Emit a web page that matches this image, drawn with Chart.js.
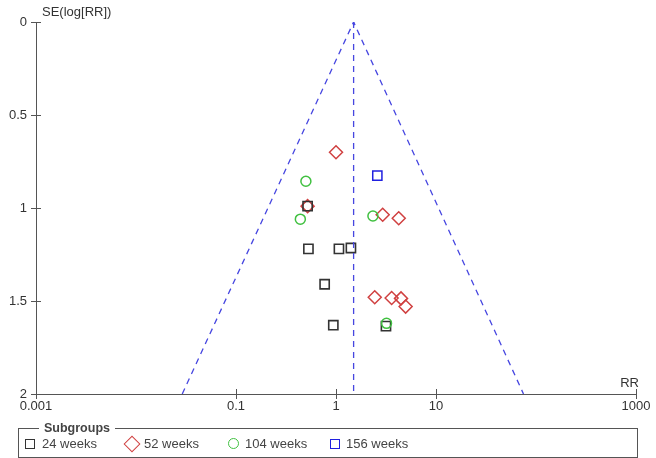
<!DOCTYPE html>
<html>
<head>
<meta charset="utf-8">
<script src="https://cdn.jsdelivr.net/npm/chart.js@4.4.1/dist/chart.umd.min.js"></script>
<style>
  body { margin: 0; background: #fff; font-family: "Liberation Sans", Arial, sans-serif; }
  #wrap { position: relative; width: 656px; height: 458px; overflow: hidden; }
  #legend { position: absolute; left: 18px; top: 428px; width: 620px; height: 30px; border: 1px solid #555; box-sizing: border-box; }
  #legend .title { position: absolute; left: 20px; top: -8px; padding: 0 5px; background: #fff; font-weight: bold; font-size: 12.5px; color: #444; line-height: 14px; }
  #legend .item { position: absolute; top: 8px; font-size: 13px; color: #444; line-height: 14px; }
  #legend .mk { position: absolute; box-sizing: border-box; }
</style>
</head>
<body>
<div id="wrap">
  <canvas id="funnel" width="656" height="458"></canvas>
  <div id="legend">
    <span class="title">Subgroups</span>
    <span class="mk" style="left:6px;top:10px;width:10px;height:10px;border:1.5px solid #333;"></span>
    <span class="item" style="left:23px;">24 weeks</span>
    <span class="mk" style="left:107px;top:9px;width:12px;height:12px;border:1.5px solid #d04040;transform:rotate(45deg);"></span>
    <span class="item" style="left:125px;">52 weeks</span>
    <span class="mk" style="left:209px;top:9px;width:11px;height:11px;border:1.5px solid #40c040;border-radius:50%;"></span>
    <span class="item" style="left:226px;">104 weeks</span>
    <span class="mk" style="left:311px;top:10px;width:10px;height:10px;border:1.5px solid #2020e0;"></span>
    <span class="item" style="left:327px;">156 weeks</span>
  </div>
</div>
<script>
// valeurs (RR, SE(log[RR]))
const rr24 = [0.52, 0.53, 1.07, 1.41, 0.77, 0.94, 3.16];
const se24 = [0.99, 1.22, 1.22, 1.215, 1.41, 1.63, 1.635];
const rr52 = [1.0, 0.52, 2.93, 4.24, 2.44, 3.6, 4.47, 4.97];
const se52 = [0.70, 0.99, 1.036, 1.055, 1.48, 1.484, 1.486, 1.53];
const rr104 = [0.50, 0.44, 2.34, 3.2];
const se104 = [0.856, 1.06, 1.043, 1.62];
const rr156 = [2.59];
const se156 = [0.826];

// entonnoir : sommet et extrémités
const pooledRR = 1.5;
const funnelLow = 0.029;
const funnelHigh = 75;

const xTicks = [0.001, 0.1, 1, 10, 1000];
const xTickLabels = ['0.001', '0.1', '1', '10', '1000'];
const yTicks = [0, 0.5, 1, 1.5, 2];
const yTickLabels = ['0', '0.5', '1', '1.5', '2'];

function toPoints(xs, ys) {
    return xs.map((x, i) => ({ x: x, y: ys[i] }));
}

const FONT = { family: '"Liberation Sans", Arial, sans-serif', size: 13 };
const dashBlue = '#4646e0';

// traits de graduation qui traversent les axes + titres des axes
const axisExtras = {
    id: 'axisExtras',
    afterDraw(chart) {
        const ctx = chart.ctx;
        const xs = chart.scales.x;
        const ys = chart.scales.y;
        const area = chart.chartArea;
        ctx.save();
        ctx.strokeStyle = '#555';
        ctx.lineWidth = 1;
        ctx.beginPath();
        xTicks.forEach(v => {
            const px = Math.round(xs.getPixelForValue(v)) + 0.5;
            ctx.moveTo(px, area.bottom - 5);
            ctx.lineTo(px, area.bottom + 5);
        });
        yTicks.forEach(v => {
            const py = Math.round(ys.getPixelForValue(v)) + 0.5;
            ctx.moveTo(area.left - 5, py);
            ctx.lineTo(area.left + 5, py);
        });
        ctx.stroke();

        ctx.fillStyle = '#333';
        ctx.font = '13px "Liberation Sans", Arial, sans-serif';
        ctx.textBaseline = 'middle';
        ctx.textAlign = 'left';
        ctx.fillText('SE(log[RR])', area.left + 6, 12);
        ctx.textAlign = 'right';
        ctx.fillText('RR', area.right + 3, area.bottom - 11);
        ctx.restore();
    }
};

new Chart(document.getElementById('funnel'), {
    type: 'scatter',
    data: {
        datasets: [
            {
                label: 'funnel',
                type: 'line',
                data: [{ x: funnelLow, y: 2 }, { x: pooledRR, y: 0 }, { x: funnelHigh, y: 2 }],
                borderColor: dashBlue,
                borderWidth: 1.3,
                borderDash: [6, 5],
                pointRadius: 0,
                fill: false,
                tension: 0
            },
            {
                label: 'pooled',
                type: 'line',
                data: [{ x: pooledRR, y: 0 }, { x: pooledRR, y: 2 }],
                borderColor: dashBlue,
                borderWidth: 1.3,
                borderDash: [6, 5],
                pointRadius: 0,
                fill: false
            },
            {
                label: '104 weeks',
                data: toPoints(rr104, se104),
                pointStyle: 'circle',
                pointRadius: 5,
                borderColor: '#40c040',
                backgroundColor: 'rgba(0,0,0,0)',
                borderWidth: 1.5
            },
            {
                label: '24 weeks',
                data: toPoints(rr24, se24),
                pointStyle: 'rect',
                pointRadius: 6.5,
                borderColor: '#333',
                backgroundColor: 'rgba(0,0,0,0)',
                borderWidth: 1.6
            },
            {
                label: '52 weeks',
                data: toPoints(rr52, se52),
                pointStyle: 'rectRot',
                pointRadius: 6.5,
                borderColor: '#d04040',
                backgroundColor: 'rgba(0,0,0,0)',
                borderWidth: 1.5
            },
            {
                label: '156 weeks',
                data: toPoints(rr156, se156),
                pointStyle: 'rect',
                pointRadius: 6.5,
                borderColor: '#2020e0',
                backgroundColor: 'rgba(0,0,0,0)',
                borderWidth: 1.5
            }
        ]
    },
    options: {
        responsive: false,
        animation: false,
        layout: { padding: { left: 0, top: 22, right: 20, bottom: 44 } },
        plugins: {
            legend: { display: false },
            tooltip: { enabled: false }
        },
        scales: {
            x: {
                type: 'logarithmic',
                min: 0.001,
                max: 1000,
                afterBuildTicks: scale => { scale.ticks = xTicks.map(v => ({ value: v })); },
                afterFit: scale => { scale.height = 20; },
                grid: { display: false, drawTicks: false },
                border: { display: true, color: '#555', width: 1 },
                ticks: {
                    font: FONT,
                    color: '#333',
                    padding: 5,
                    maxRotation: 0,
                    autoSkip: false,
                    callback: value => {
                        const i = xTicks.indexOf(value);
                        return i >= 0 ? xTickLabels[i] : '';
                    }
                }
            },
            y: {
                type: 'linear',
                reverse: true,
                min: 0,
                max: 2,
                afterBuildTicks: scale => { scale.ticks = yTicks.map(v => ({ value: v })); },
                afterFit: scale => { scale.width = 36; },
                grid: { display: false, drawTicks: false },
                border: { display: true, color: '#555', width: 1 },
                ticks: {
                    font: FONT,
                    color: '#333',
                    padding: 9,
                    callback: value => {
                        const i = yTicks.indexOf(value);
                        return i >= 0 ? yTickLabels[i] : '';
                    }
                }
            }
        }
    },
    plugins: [axisExtras]
});
</script>
</body>
</html>
